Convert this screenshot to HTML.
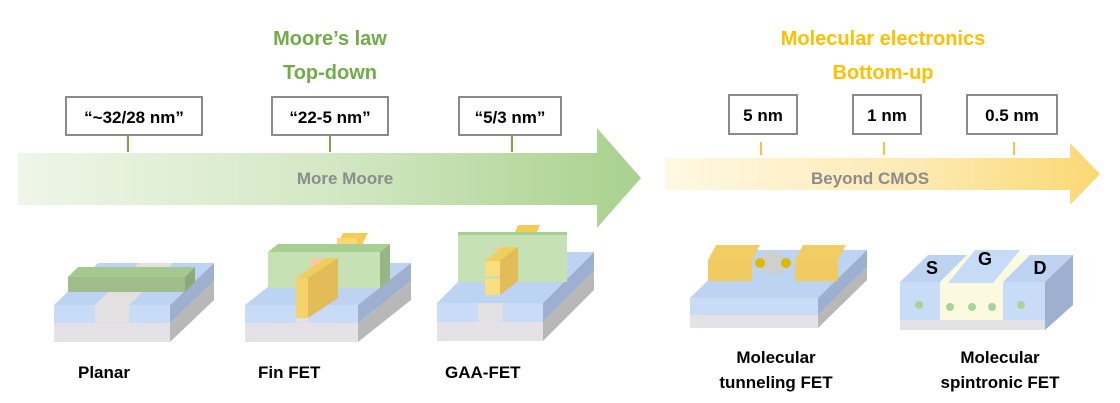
<!DOCTYPE html>
<html><head><meta charset="utf-8"><style>
html,body{margin:0;padding:0;background:#fff}
svg{display:block;font-family:"Liberation Sans",Arial,sans-serif}
</style></head><body>
<svg width="1120" height="403" viewBox="0 0 1120 403">
<defs>
<linearGradient id="g1" x1="0" x2="1"><stop offset="0" stop-color="#eef6e8"/><stop offset="0.5" stop-color="#d3e8c4"/><stop offset="1" stop-color="#a9d18e"/></linearGradient>
<linearGradient id="g2" x1="0" x2="1"><stop offset="0" stop-color="#fff8e4"/><stop offset="0.6" stop-color="#fde9b0"/><stop offset="1" stop-color="#fcd873"/></linearGradient>
</defs>
<!-- arrows -->
<polygon points="18,153 597,153 597,128 641,178 597,228 597,205 18,205" fill="url(#g1)"/>
<polygon points="665,158 1070,158 1070,143 1100,174 1070,205 1070,190 665,190" fill="url(#g2)"/>
<text x="345" y="184" font-size="17" font-weight="bold" fill="#8c8c8c" text-anchor="middle">More Moore</text>
<text x="870" y="184" font-size="17" font-weight="bold" fill="#8c8c8c" text-anchor="middle">Beyond CMOS</text>
<!-- titles -->
<g font-size="20" font-weight="bold" text-anchor="middle">
<text x="330" y="45" fill="#70ad47">Moore’s law</text>
<text x="330" y="79" fill="#70ad47">Top-down</text>
<text x="883" y="45" fill="#ffc000">Molecular electronics</text>
<text x="883" y="79" fill="#ffc000">Bottom-up</text>
</g>
<!-- boxes -->
<g fill="#fff" stroke="#8a8a8a" stroke-width="2">
<rect x="66" y="97" width="136" height="38"/><rect x="272" y="97" width="116" height="38"/><rect x="459" y="97" width="102" height="38"/>
<rect x="729" y="95" width="68" height="39"/><rect x="853" y="95" width="68" height="39"/><rect x="967" y="95" width="90" height="39"/>
</g>
<g stroke="#70ad47" stroke-width="2"><line x1="128" y1="136" x2="128" y2="152"/><line x1="330" y1="136" x2="330" y2="152"/><line x1="512" y1="136" x2="512" y2="152"/></g>
<g stroke="#f5c242" stroke-width="2"><line x1="761" y1="142" x2="761" y2="155"/><line x1="884" y1="142" x2="884" y2="155"/><line x1="1014" y1="142" x2="1014" y2="155"/></g>
<g font-size="17" font-weight="bold" fill="#000" text-anchor="middle">
<text x="134" y="123">“~32/28 nm”</text><text x="330" y="123">“22-5 nm”</text><text x="510" y="123">“5/3 nm”</text>
<text x="763" y="121">5 nm</text><text x="887" y="121">1 nm</text><text x="1012" y="121">0.5 nm</text>
</g>
<!-- Planar -->
<polygon points="54,305 170,305 214,263 98,263" fill="#bcd3f2"/>
<polygon points="95,305 129,305 173,263 139,263" fill="#e4e0e0"/>
<polygon points="170,305 214,263 214,281 170,323" fill="#9db0cf"/>
<polygon points="170,323 214,281 214,300 170,342" fill="#b8b8b8"/>
<rect x="54" y="305" width="116" height="18" fill="#c9dcf7"/><rect x="95" y="305" width="34" height="18" fill="#e2e0e0"/>
<rect x="54" y="323" width="116" height="19" fill="#e4e2e6"/>
<polygon points="68,277 185,277 195,267 78,267" fill="#a3c98e"/>
<rect x="68" y="277" width="117" height="15" fill="#9ebd8b"/>
<polygon points="185,277 195,267 195,282 185,292" fill="#8aab78"/>
<!-- FinFET -->
<polygon points="245,305 358,305 411,263 298,263" fill="#bcd3f2"/>
<polygon points="358,305 411,263 411,281 358,323" fill="#9db0cf"/>
<polygon points="358,323 411,281 411,300 358,342" fill="#b8b8b8"/>
<rect x="245" y="305" width="113" height="18" fill="#c9dcf7"/><rect x="296" y="305" width="13" height="18" fill="#e2e0e0"/>
<rect x="245" y="323" width="113" height="19" fill="#e4e2e6"/>
<polygon points="337,245 362,245 368,233 343,233" fill="#f2cc55"/><rect x="337" y="238" width="20" height="8" fill="#f7d873"/>
<polygon points="268,252 380,252 390,244 278,244" fill="#a8cf92"/>
<rect x="268" y="252" width="112" height="36" fill="#c6e2b5"/>
<polygon points="380,252 390,244 390,280 380,288" fill="#94b785"/>
<rect x="310" y="258" width="28" height="30" fill="#f8c9a0"/>
<polygon points="296,278 308,278 338,258 326,258" fill="#f0cd5c"/>
<rect x="296" y="278" width="12" height="40" fill="#f6d36a"/>
<polygon points="308,278 338,258 338,298 308,318" fill="#e2bc58"/>
<!-- GAA -->
<polygon points="437,303 543,303 594,252 488,252" fill="#bcd3f2"/>
<polygon points="543,303 594,252 594,271 543,322" fill="#9db0cf"/>
<polygon points="543,322 594,271 594,290 543,341" fill="#b8b8b8"/>
<rect x="437" y="303" width="106" height="19" fill="#c9dcf7"/><rect x="478" y="303" width="25" height="19" fill="#e2e0e0"/>
<rect x="437" y="322" width="106" height="19" fill="#e4e2e6"/>
<polygon points="513,237 535,237 540,225 518,225" fill="#f2cc55"/>
<rect x="458" y="233" width="109" height="49" fill="#c6e2b5"/>
<rect x="458" y="232" width="109" height="3" fill="#a8cf92"/>
<rect x="497" y="247" width="20" height="35" fill="#f8c9a0"/>
<polygon points="485,261 500,261 518,247 503,247" fill="#f0cd5c"/>
<rect x="485" y="261" width="15" height="15" fill="#f9de7f"/><rect x="485" y="279" width="15" height="16" fill="#f9de7f"/>
<polygon points="500,261 518,247 518,281 500,295" fill="#e2bc58"/>
<!-- Tunneling -->
<polygon points="690,298 818,298 867,250 739,250" fill="#bcd3f2"/>
<polygon points="818,298 867,250 867,267 818,315" fill="#9db0cf"/>
<polygon points="818,315 867,267 867,280 818,328" fill="#b8b8b8"/>
<rect x="690" y="298" width="128" height="17" fill="#c9dcf7"/><rect x="690" y="315" width="128" height="13" fill="#e4e2e6"/>
<polygon points="708,260 752,260 760,245 716,245" fill="#f2cd64"/>
<rect x="708" y="260" width="44" height="21" fill="#f0cb62"/>
<polygon points="795,260 838,260 846,245 803,245" fill="#f2cd64"/>
<rect x="795" y="260" width="43" height="21" fill="#f0cb62"/>
<ellipse cx="773" cy="263" rx="14" ry="11" fill="#cfcfcf"/>
<circle cx="760" cy="263" r="5" fill="#e0b800"/><circle cx="786" cy="263" r="5" fill="#e0b800"/>
<!-- Spintronic -->
<polygon points="900,282 1045,282 1073,255 928,255" fill="#bcd3f2"/>
<polygon points="940,282 1003,282 1030,255 967,255" fill="#fbfbe0"/>
<polygon points="1045,282 1073,255 1073,305 1045,330" fill="#9db0cf"/>
<rect x="900" y="282" width="40" height="38" fill="#c9dcf7"/>
<rect x="940" y="282" width="63" height="38" fill="#fbfae0"/>
<rect x="1003" y="282" width="42" height="38" fill="#c9dcf7"/>
<rect x="900" y="320" width="145" height="10" fill="#e4e2e6"/>
<polygon points="948,283 993,283 1020,250 975,250" fill="#c6dcf6"/>
<g fill="#a7d49a"><circle cx="919" cy="305" r="4"/><circle cx="1021" cy="305" r="4"/><circle cx="950" cy="307" r="4"/><circle cx="972" cy="307" r="4"/><circle cx="992" cy="307" r="4"/></g>
<g font-size="18" font-weight="bold" fill="#000" text-anchor="middle"><text x="932" y="274">S</text><text x="985" y="265">G</text><text x="1040" y="274">D</text></g>
<!-- labels -->
<g font-size="17" font-weight="bold" fill="#000">
<text x="78" y="378">Planar</text><text x="258" y="378">Fin FET</text><text x="445" y="378">GAA-FET</text>
<text x="776" y="363" text-anchor="middle">Molecular</text><text x="776" y="388" text-anchor="middle">tunneling FET</text>
<text x="1000" y="363" text-anchor="middle">Molecular</text><text x="1000" y="388" text-anchor="middle">spintronic FET</text>
</g>
</svg>
</body></html>
